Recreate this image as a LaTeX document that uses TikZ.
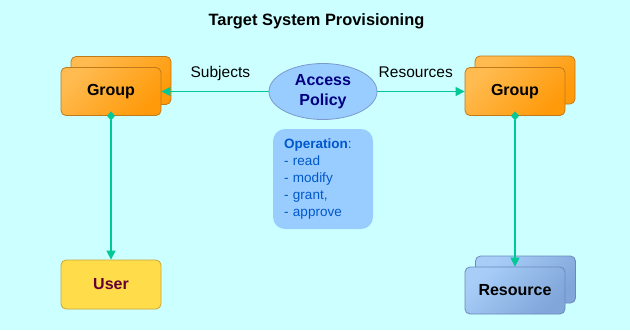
\documentclass[tikz,border=0pt]{standalone}
\usepackage{fontspec}
\setmainfont{Liberation Sans}
\usetikzlibrary{arrows.meta,shapes.geometric}

\definecolor{bgcyan}{HTML}{CCFFFF}
\definecolor{grpLight}{HTML}{FFBB50}
\definecolor{grpDark}{HTML}{FF9A0A}
\definecolor{grpEdge}{HTML}{C07A1A}
\definecolor{resLight}{HTML}{A8CEF8}
\definecolor{resDark}{HTML}{80A6DA}
\definecolor{resEdge}{HTML}{6A8ABA}
\definecolor{usrFill}{HTML}{FFDD4A}
\definecolor{usrEdge}{HTML}{C9A634}
\definecolor{usrText}{HTML}{660033}
\definecolor{polFill}{HTML}{99CCFF}
\definecolor{polEdge}{HTML}{7C9ACB}
\definecolor{polText}{HTML}{000080}
\definecolor{opText}{HTML}{0058CC}
\definecolor{link}{HTML}{00C896}

\begin{document}
\begin{tikzpicture}[x=1pt, y=-1pt,
  box/.style={rounded corners=5pt, minimum width=100pt, minimum height=48pt,
    inner sep=0pt, line width=0.8pt, font=\fontsize{16}{19}\selectfont\bfseries},
  grpbox/.style={box, draw=grpEdge, top color=grpLight, bottom color=grpDark, shading angle=45},
  resbox/.style={box, draw=resEdge, top color=resLight, bottom color=resDark, shading angle=45},
  usrbox/.style={box, draw=usrEdge, fill=usrFill, text=usrText},
  lbl/.style={font=\fontsize{15.5}{18}\selectfont},
  link/.style={draw=link, line width=1.2pt},
  tip/.style={-{Triangle[length=9pt,width=9pt]}},
  dtip/.style={{Diamond[length=9pt,width=8pt]}-{Triangle[length=9pt,width=9pt]}, shorten <=-4.5pt}
]
  % background and title
  \fill[bgcyan] (0,0) rectangle (630,330);
  \node[anchor=base, font=\fontsize{16.4}{19}\selectfont\bfseries] (title) at (316.5,25) {Target System Provisioning};

  % stacked groups
  \node[grpbox] (grpLback) at (121,80.5) {};
  \node[grpbox] (grpL) at (111,91.5) {Group};
  \node[grpbox] (grpRback) at (525,80) {};
  \node[grpbox] (grpR) at (515,91.5) {Group};

  % user and resource
  \node[usrbox, minimum height=49pt] (usr) at (111,284.5) {User};
  \node[resbox, minimum height=47pt] (resback) at (525.5,279.5) {};
  \node[resbox, minimum height=47pt] (res) at (515,290.5) {Resource};

  % policy
  \node[ellipse, draw=polEdge, fill=polFill, line width=0.8pt, minimum width=108pt, minimum height=56pt,
    inner sep=0pt, align=center, text=polText, font=\fontsize{16}{20}\selectfont\bfseries] (pol) at (323,91.5) {Access\\Policy};
  \node[fill=polFill, rounded corners=12pt, minimum width=100pt, minimum height=100pt, text width=78pt,
    align=left, text=opText, font=\fontsize{13.5}{16.8}\selectfont] (op) at (323,179)
    {\textbf{Operation}:\\- read\\- modify\\- grant,\\- approve};

  % connectors
  \draw[link, tip] (pol) -- node[lbl, pos=0.45, anchor=base, yshift=14.5pt] (subj) {Subjects} (grpL);
  \draw[link, tip] (pol) -- node[lbl, pos=0.44, anchor=base, yshift=14pt] (resl) {Resources} (grpR);
  \draw[link, dtip] (grpL) -- (usr);
  \draw[link, dtip] (grpR) -- (res);
\end{tikzpicture}
\end{document}
